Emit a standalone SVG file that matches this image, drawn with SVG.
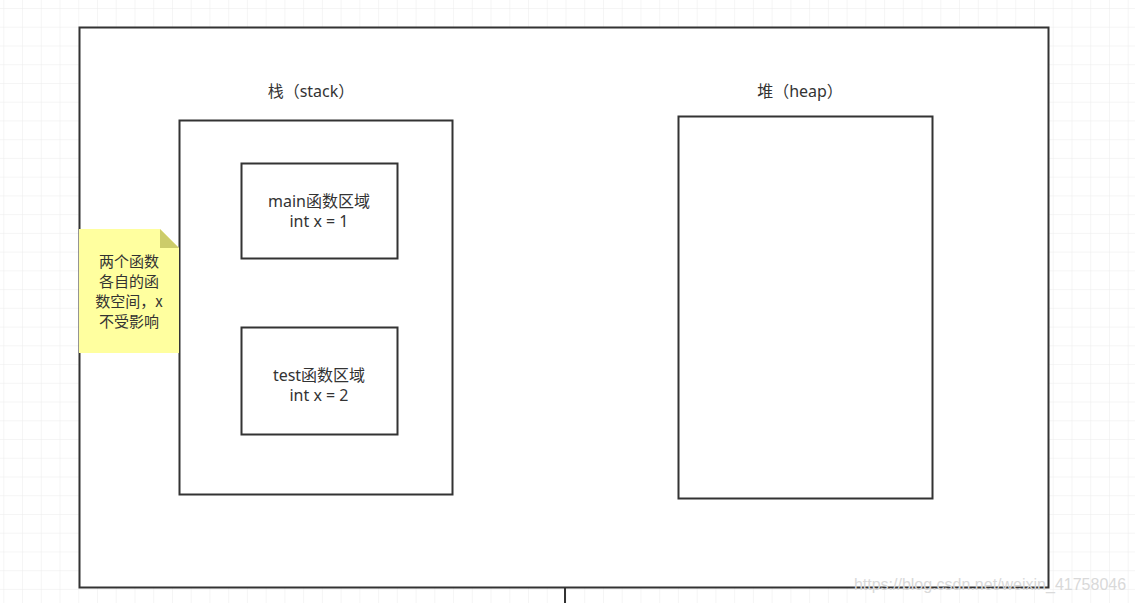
<svg xmlns="http://www.w3.org/2000/svg" width="1135" height="603" viewBox="0 0 1135 603">
<style>
.box{fill:#ffffff;stroke:#333333;stroke-width:2}
.t{font-family:"Noto Sans","Noto Sans CJK SC",sans-serif;font-size:16px;fill:#333333;text-anchor:middle}
.n{font-family:"Noto Sans CJK SC",sans-serif;font-size:15px;fill:#333333;text-anchor:middle}
</style>
<defs>
<pattern id="grid" x="3.3" y="8" width="18.74" height="18.74" patternUnits="userSpaceOnUse">
<path d="M0 0H18.74M0 0V18.74" fill="none" stroke="#ebebeb" stroke-width="1"/>
</pattern>
</defs>
<rect width="1135" height="603" fill="#ffffff"/>
<rect width="1135" height="603" fill="url(#grid)"/>
<g id="connectors">
<line x1="565" y1="588" x2="565" y2="603" stroke="#333333" stroke-width="2"/>
</g>
<g id="outer"><rect class="box" x="79.5" y="27.5" width="969" height="560"/></g>
<g id="stack">
<rect class="box" x="179.5" y="120.5" width="273" height="374"/>
<text class="t" x="311" y="97">栈（stack）</text>
</g>
<g id="main">
<rect class="box" x="241.5" y="163.5" width="156" height="95"/>
<text class="t" x="319" y="207">main函数区域</text>
<text class="t" x="319" y="227">int x = 1</text>
</g>
<g id="test">
<rect class="box" x="241.5" y="327.5" width="156" height="107"/>
<text class="t" x="319" y="381">test函数区域</text>
<text class="t" x="319" y="401">int x = 2</text>
</g>
<g id="heap">
<rect class="box" x="678.5" y="116.5" width="254" height="382"/>
<text class="t" x="800" y="97">堆（heap）</text>
</g>
<g id="note">
<path d="M79 229H160L179 248V353H79Z" fill="#ffff9f" stroke="none"/>
<path d="M160 229L179 248H160Z" fill="#cccc6a"/>
<text class="n" x="129" y="267">两个函数</text>
<text class="n" x="129" y="287">各自的函</text>
<text class="n" x="129" y="307">数空间，x</text>
<text class="n" x="129" y="327">不受影响</text>
</g>
<text x="990" y="590" font-family="Liberation Sans,sans-serif" font-size="16" fill="#d9d9d9" text-anchor="middle">https://blog.csdn.net/weixin_41758046</text>
</svg>
